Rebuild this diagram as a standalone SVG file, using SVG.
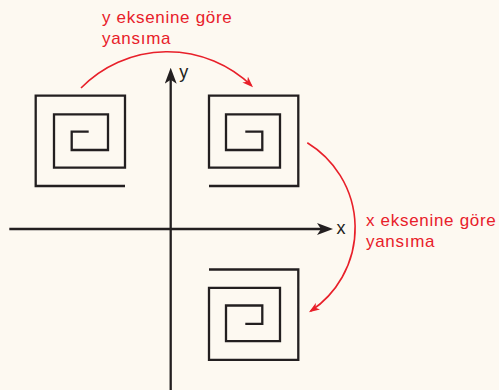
<svg xmlns="http://www.w3.org/2000/svg" width="499" height="390" viewBox="0 0 499 390">
  <style>
    .spiral { fill: none; stroke: #231f20; stroke-width: 2.3; stroke-linejoin: miter; stroke-linecap: butt; }
    .axis { fill: none; stroke: #231f20; stroke-width: 2.3; }
    .arc { fill: none; stroke: #e8202a; stroke-width: 1.6; }
    .lbl { font-family: "Liberation Sans", Arial, sans-serif; font-size: 17px; letter-spacing: 0.7px; fill: #e8202a; }
    .axlbl { font-family: "Liberation Sans", Arial, sans-serif; font-size: 18px; fill: #231f20; }
  </style>
  <defs>
    <marker id="axArrow" markerUnits="userSpaceOnUse" markerWidth="16" markerHeight="12" refX="8" refY="6" orient="auto" viewBox="0 0 16 12">
      <path d="M0,0 L16,6 L0,12 L4,6 Z" fill="#231f20"/>
    </marker>
    <marker id="redArrow" markerUnits="userSpaceOnUse" markerWidth="11" markerHeight="8" refX="9" refY="4" orient="auto" viewBox="0 0 11 8">
      <path d="M0,0 L11,4 L0,8 L3,4 Z" fill="#e8202a"/>
    </marker>
  </defs>
  <rect x="0" y="0" width="499" height="390" fill="#fdf9f1"/>

  <g id="axes">
    <line class="axis" x1="9.3" y1="229" x2="325" y2="229" marker-end="url(#axArrow)"/>
    <line class="axis" x1="170.7" y1="390" x2="170.7" y2="75.7" marker-end="url(#axArrow)"/>
    <text class="axlbl" x="336.5" y="234">x</text>
    <text class="axlbl" x="179.3" y="78">y</text>
  </g>

  <g id="spiral-top-left">
    <path class="spiral" d="M125,186 L35.7,186 L35.7,95.7 L125,95.7 L125,167.7 L54,167.7 L54,114.3 L108,114.3 L108,150 L71.7,150 L71.7,131.7 L88.7,131.7"/>
  </g>
  <g id="spiral-top-right">
    <path class="spiral" d="M209,186 L298.3,186 L298.3,95.7 L209,95.7 L209,167.7 L280,167.7 L280,114.3 L226,114.3 L226,150 L262.3,150 L262.3,131.7 L245.3,131.7"/>
  </g>
  <g id="spiral-bottom-right">
    <path class="spiral" d="M209,269.5 L298.3,269.5 L298.3,359.8 L209,359.8 L209,287.8 L280,287.8 L280,341.2 L226,341.2 L226,305.5 L262.3,305.5 L262.3,323.8 L245.3,323.8"/>
  </g>

  <g id="connectors">
    <path class="arc" d="M81,88 A121,121 0 0 1 251.6,85.8" marker-end="url(#redArrow)"/>
    <path class="arc" d="M307.3,142.7 A100,100 0 0 1 310.6,311.2" marker-end="url(#redArrow)"/>
  </g>

  <g id="label-y-reflection">
    <text class="lbl" x="102" y="22.5">y eksenine göre</text>
    <text class="lbl" x="102" y="43.5">yansıma</text>
  </g>
  <g id="label-x-reflection">
    <text class="lbl" x="366" y="226">x eksenine göre</text>
    <text class="lbl" x="366" y="246.5">yansıma</text>
  </g>
</svg>
